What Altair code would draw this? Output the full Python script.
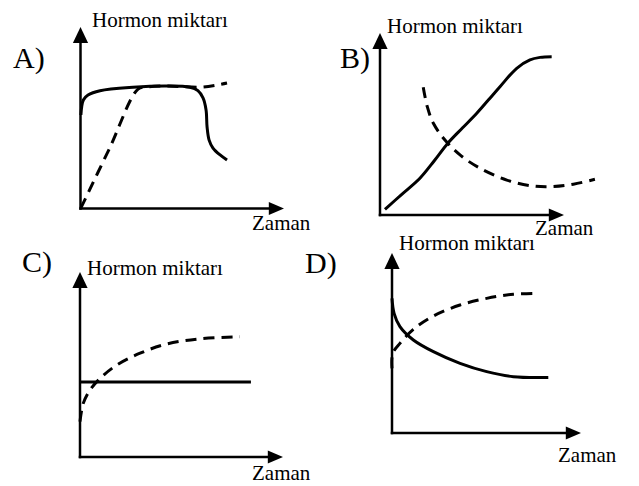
import altair as alt
import pandas as pd

# ---------------- data (local units: time 0..100 along the x-axis, hormone 0..100 along the y-axis)
PANELS = ["A", "B", "C", "D"]
PANEL_LETTERS = ["A)", "B)", "C)", "D)"]
Y_TITLE = "Hormon miktarı"
X_TITLE = "Zaman"

A_solid_t = [0.2, 1.4, 3.7, 9.6, 25.8, 42.5, 53.8, 57.7, 60.2, 61.7, 62.2, 63.2, 65.1, 68.6, 72.0]
A_solid_h = [51.5, 59.8, 62.5, 64.9, 66.8, 67.5, 66.8, 64.9, 60.9, 54.3, 44.9, 37.7, 33.3, 29.5, 26.7]
A_dash_t = [0.2, 14.2, 28.3, 32.7, 42.5, 58.7, 67.1, 72.0]
A_dash_h = [0.3, 33.0, 65.8, 66.9, 67.5, 66.8, 68.0, 69.1]

B_solid_t = [2.7, 12.0, 21.7, 29.5, 37.1, 44.9, 52.6, 59.0, 65.2, 74.3, 81.5, 87.0, 93.3]
B_solid_h = [3.1, 11.5, 20.2, 29.8, 39.7, 47.9, 55.9, 63.3, 70.5, 80.6, 85.2, 86.6, 87.0]
B_dash_t = [23.5, 25.7, 29.0, 35.3, 43.5, 54.3, 68.9, 83.3, 94.2, 105.1, 116.8]
B_dash_h = [70.2, 59.5, 50.4, 41.2, 33.0, 25.7, 19.2, 15.9, 15.6, 16.9, 19.6]

C_solid_t = [0.0, 84.2]
C_solid_h = [40.5, 40.5]
C_dash_t = [0.0, 1.6, 4.9, 9.9, 18.1, 29.6, 42.7, 59.1, 78.8]
C_dash_h = [19.1, 29.0, 36.2, 42.5, 49.7, 56.1, 61.1, 63.9, 65.0]

D_solid_t = [0.0, 1.1, 4.2, 11.3, 21.9, 36.0, 50.1, 64.2, 82.7]
D_solid_h = [74.8, 66.5, 59.1, 51.7, 45.2, 38.7, 34.1, 31.3, 30.9]
D_dash_t = [0.0, 0.4, 4.2, 11.3, 21.9, 36.0, 50.1, 64.2, 76.6]
D_dash_h = [35.9, 44.3, 49.8, 57.6, 65.0, 71.1, 74.8, 77.1, 77.6]

SERIES = {
    "A": {"solid": (A_solid_t, A_solid_h), "dash": (A_dash_t, A_dash_h)},
    "B": {"solid": (B_solid_t, B_solid_h), "dash": (B_dash_t, B_dash_h)},
    "C": {"solid": (C_solid_t, C_solid_h), "dash": (C_dash_t, C_dash_h)},
    "D": {"solid": (D_solid_t, D_solid_h), "dash": (D_dash_t, D_dash_h)},
}

# ---------------- layout (page pixels): origin x, origin y, x-axis length, y-axis length
FRAME = {
    "A": (80.5, 208.5, 203.5, 181.5),
    "B": (380.0, 215.0, 184.0, 182.0),
    "C": (80.0, 457.0, 203.0, 185.0),
    "D": (392.0, 433.0, 189.0, 180.0),
}
# label offsets from the panel origin: letter, y title, x title
LABEL_OFF = {
    "A": [(-67.5, -140.5), (11.5, -181.5), (171.5, 21.5)],
    "B": [(-40.0, -147.0), (7.0, -182.0), (155.0, 20.0)],
    "C": [(-58.0, -185.0), (7.0, -182.0), (172.0, 23.0)],
    "D": [(-87.0, -160.0), (7.0, -183.0), (166.0, 29.0)],
}
W, H = 623, 478
SERIF = "Liberation Serif"


def to_px(p, t, h):
    ox, oy, lx, ly = FRAME[p]
    return ox + t * lx / 100.0, oy - h * ly / 100.0


rows = []
for p in PANELS:
    for s, (ts, hs) in SERIES[p].items():
        for i, (t, h) in enumerate(zip(ts, hs)):
            px, py = to_px(p, t, h)
            rows.append({"key": p + s, "style": s, "ord": i, "X": px, "Y": py})
lines = pd.DataFrame(rows)

ax_rows, up_rows, right_rows, small_txt, big_txt = [], [], [], [], []
for p, letter in zip(PANELS, PANEL_LETTERS):
    x0, y0 = to_px(p, 0, 0)
    xt, yt = to_px(p, 0, 95)
    xr, yr = to_px(p, 95, 0)
    ax_rows.append({"X": x0, "Y": y0, "X2": xt, "Y2": yt})
    ax_rows.append({"X": x0, "Y": y0, "X2": xr, "Y2": yr})
    ux, uy = to_px(p, 0, 100)
    rx, ry = to_px(p, 100, 0)
    up_rows.append({"X": ux, "Y": uy})
    right_rows.append({"X": rx, "Y": ry})
    ox, oy = FRAME[p][0], FRAME[p][1]
    offs = LABEL_OFF[p]
    big_txt.append({"X": ox + offs[0][0], "Y": oy + offs[0][1], "txt": letter})
    small_txt.append({"X": ox + offs[1][0], "Y": oy + offs[1][1], "txt": Y_TITLE})
    small_txt.append({"X": ox + offs[2][0], "Y": oy + offs[2][1], "txt": X_TITLE})

xs = alt.Scale(domain=[8, 8 + W], nice=False, zero=False)
ys = alt.Scale(domain=[8, 8 + H], reverse=True, nice=False, zero=False)
X = alt.X("X:Q", scale=xs, axis=None)
Y = alt.Y("Y:Q", scale=ys, axis=None)

solid = alt.Chart(lines).transform_filter(alt.datum.style == "solid").mark_line(
    color="black", strokeWidth=3, interpolate="catmull-rom", strokeCap="butt"
).encode(x=X, y=Y, detail="key:N", order="ord:Q")

dashed = alt.Chart(lines).transform_filter(alt.datum.style == "dash").mark_line(
    color="black", strokeWidth=3, interpolate="catmull-rom", strokeDash=[11, 7], strokeCap="butt"
).encode(x=X, y=Y, detail="key:N", order="ord:Q")

axes = alt.Chart(pd.DataFrame(ax_rows)).mark_rule(
    color="black", strokeWidth=2.5, strokeCap="square"
).encode(x=X, y=Y, x2="X2:Q", y2="Y2:Q")

arrow_up = alt.Chart(pd.DataFrame(up_rows)).mark_point(
    shape="M0,0L-1.9,4L1.9,4Z", size=64, filled=True, color="black", opacity=1, strokeWidth=0
).encode(x=X, y=Y)

arrow_right = alt.Chart(pd.DataFrame(right_rows)).mark_point(
    shape="M0,0L-3.8,-1.65L-3.8,1.65Z", size=64, filled=True, color="black", opacity=1, strokeWidth=0
).encode(x=X, y=Y)

small = alt.Chart(pd.DataFrame(small_txt)).mark_text(
    font=SERIF, fontSize=21, align="left", baseline="alphabetic"
).encode(x=X, y=Y, text="txt:N")

big = alt.Chart(pd.DataFrame(big_txt)).mark_text(
    font=SERIF, fontSize=30, align="left", baseline="alphabetic"
).encode(x=X, y=Y, text="txt:N")

chart = alt.layer(axes, arrow_up, arrow_right, solid, dashed, small, big).properties(
    width=W, height=H, autosize=alt.AutoSizeParams(type="none"), padding=0
).configure_view(stroke=None).configure_text(font=SERIF, color="black")

chart.save("out.html", embed_options={"renderer": "svg", "actions": False})
